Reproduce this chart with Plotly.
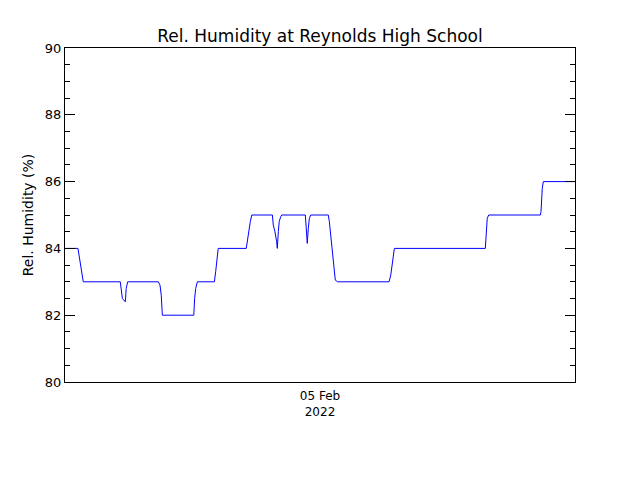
import plotly.graph_objects as go

# Time in hours since 00:00, 05 Feb 2022
hours = [0.00, 0.61, 0.66, 0.74, 0.79, 0.83, 0.86, 2.60, 2.65, 2.70, 2.84, 2.88, 2.95,
         4.39, 4.47, 4.53, 4.58, 6.06, 6.10, 6.15, 6.23, 7.03, 7.09, 7.15, 7.21,
         8.53, 8.60, 8.66, 8.72, 8.79, 9.76, 9.80, 9.88, 9.96, 9.99, 10.04, 10.08, 10.15, 10.20,
         11.31, 11.36, 11.40, 11.45, 11.50, 11.56, 12.39, 12.44, 12.50, 12.56, 12.61, 12.66, 12.72, 12.83,
         15.25, 15.33, 15.39, 15.44, 15.50, 19.78, 19.81, 19.84, 19.87, 19.94,
         22.37, 22.40, 22.43, 22.46, 22.51, 24.00]
humidity = [84.0, 84.0, 83.8, 83.5, 83.3, 83.1, 83.0, 83.0, 82.7, 82.5, 82.4, 82.8, 83.0,
            83.0, 82.9, 82.6, 82.0, 82.0, 82.5, 82.8, 83.0, 83.0, 83.3, 83.6, 84.0,
            84.0, 84.3, 84.6, 84.8, 85.0, 85.0, 84.7, 84.5, 84.2, 84.0, 84.5, 84.8, 84.95, 85.0,
            85.0, 84.5, 84.15, 84.6, 84.9, 85.0, 85.0, 84.8, 84.4, 84.0, 83.7, 83.4, 83.05, 83.0,
            83.0, 83.2, 83.5, 83.8, 84.0, 84.0, 84.3, 84.6, 84.9, 85.0,
            85.0, 85.1, 85.5, 85.8, 86.0, 86.0]

title = "Rel. Humidity at Reynolds High School"
y_title = "Rel. Humidity (%)"
x_tick_vals = [12]
x_tick_text = ["05 Feb<br>2022"]
y_ticks = [80, 82, 84, 86, 88, 90]

# page body has an 8px margin, so the figure is sized/offset to compensate
W, H = 632, 472

fig = go.Figure()
fig.add_trace(go.Scatter(x=hours, y=humidity, mode="lines",
                         line=dict(color="#0000ff", width=1), showlegend=False))

fig.update_layout(
    width=W, height=H,
    margin=dict(l=57, r=65, t=40, b=98, autoexpand=False),
    paper_bgcolor="white", plot_bgcolor="white",
    font=dict(family="DejaVu Sans", color="black", size=13),
    title=dict(text=title, x=0.5, xanchor="center", y=1 - 28 / H, yanchor="middle",
               xref="paper",
               font=dict(size=17, family="DejaVu Sans", color="black")),
)
fig.update_xaxes(range=[0, 24], showgrid=False, zeroline=False, showline=True,
                 linecolor="black", linewidth=1, mirror=True, ticks="",
                 tickvals=x_tick_vals, ticktext=x_tick_text, tickfont=dict(size=12),
                 ticklabelstandoff=3, automargin=False)
fig.update_yaxes(range=[80, 90], showgrid=False, zeroline=False, showline=True,
                 linecolor="black", linewidth=1, mirror="ticks", ticks="inside",
                 ticklen=10, tickcolor="black", tickwidth=1,
                 tickvals=y_ticks, tickfont=dict(size=13), automargin=False,
                 minor=dict(dtick=0.5, ticks="inside", ticklen=5, tickcolor="black", tickwidth=1, showgrid=False),
                 title=dict(text=y_title, font=dict(size=14), standoff=7))

fig.write_html("out.html")
